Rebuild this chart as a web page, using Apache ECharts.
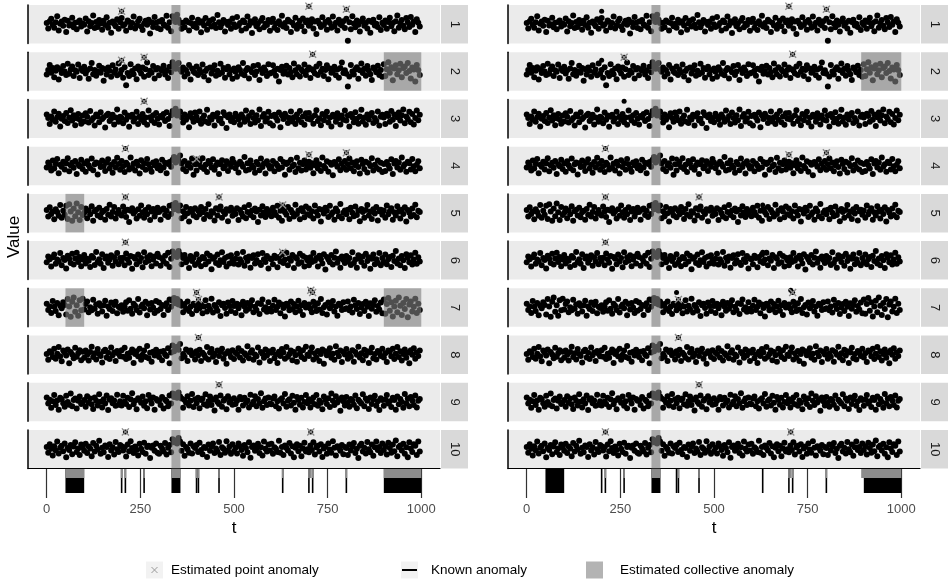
<!DOCTYPE html>
<html><head><meta charset="utf-8">
<script src="https://cdn.jsdelivr.net/npm/echarts@6/dist/echarts.min.js"></script>
<style>html,body{margin:0;padding:0;background:#fff}#c{width:951px;height:584px}</style>
</head><body><div id="c"></div>
<script>
// ---------- DATA ----------
const tStep = 4; // sampling step of the series (t = index * tStep)
const row1 = [0.3,-1.1,0.8,1.4,-0.2,-0.9,0.5,2.1,-1.6,0.1,0.7,-0.4,1.2,-2.0,0.9,-0.3,0.0,1.7,-0.8,0.4,-1.3,0.6,1.0,-0.6,0.2,
-0.1,1.5,-1.9,0.8,-0.5,0.3,2.3,-1.0,0.6,-0.7,1.1,0.2,-1.4,0.9,-0.2,1.8,-0.9,0.4,-2.2,0.7,0.1,-0.5,1.3,-1.2,0.5,
1.6,-0.4,0.0,-1.7,1.0,0.6,-0.8,0.3,2.0,-1.1,-0.3,0.8,1.4,-0.6,-1.5,0.2,0.9,-0.1,1.2,-2.4,0.5,-0.7,1.9,0.4,-1.0,
0.7,-1.3,1.1,0.0,-0.4,2.2,-0.9,0.5,-1.8,2.1,1.4,0.6,2.5,1.2,0.3,-1.2,0.4,-0.8,1.0,0.6,-1.6,0.3,1.7,-0.5,0.1,
-0.9,1.2,0.4,-2.1,0.8,-0.3,1.6,-1.4,0.2,0.9,-0.6,1.3,-0.1,-1.0,2.4,0.5,-0.8,0.1,1.1,-1.9,0.6,-0.2,0.7,-1.2,1.5,
0.0,-0.7,1.9,-0.4,0.3,-1.6,1.0,0.5,-1.1,2.0,-0.3,0.8,-2.3,0.4,1.3,-0.5,0.2,-1.3,0.9,1.6,-0.8,0.1,-0.2,1.1,-1.7,
0.6,1.4,-0.9,0.2,-1.5,0.8,-0.1,2.2,-0.6,0.3,-1.0,1.2,0.7,-2.0,0.4,-0.3,1.7,-1.2,0.0,0.9,-0.5,1.5,-1.8,0.5,1.0,
-0.4,0.2,1.3,-1.1,0.7,-2.5,0.9,0.1,-0.7,1.8,-0.2,0.6,-1.4,1.1,0.3,-0.9,2.0,-0.5,0.4,-1.6,1.2,0.0,-0.3,0.8,-1.0,
1.4,-4.3,0.5,-1.3,2.1,0.2,-0.8,1.0,-0.1,-1.9,0.7,1.5,-0.4,0.3,-1.1,0.9,-2.2,0.6,1.2,-0.3,0.1,-0.7,1.8,-1.5,0.4,
-0.2,1.0,-1.2,0.6,1.7,-0.5,0.3,-1.8,0.8,2.3,-0.9,0.2,1.1,-0.4,-1.3,1.6,0.5,-0.7,1.9,-0.1,0.7,-2.0,1.3,0.4,-0.6];
const row2 = [-0.8,0.4,1.7,-0.3,0.9,-1.5,0.2,1.1,-2.1,0.6,-0.4,1.4,0.0,-0.9,2.0,-0.6,0.5,1.3,-1.2,0.3,-0.1,1.8,-1.7,0.7,0.1,
1.2,-0.5,0.3,-1.9,0.8,2.2,-0.7,0.4,-1.1,0.0,1.5,-0.3,0.9,-2.4,0.6,-0.8,1.0,0.2,-1.4,1.6,-0.2,0.5,-1.0,2.1,-0.6,
0.4,-1.6,1.1,-3.6,-0.4,-1.2,1.9,0.1,-0.7,0.8,-2.0,1.3,0.3,-0.5,1.0,-1.4,0.6,2.3,-0.9,0.2,-0.3,1.4,-1.8,0.5,0.9,
-1.0,0.6,0.2,1.5,-0.8,0.3,-1.7,1.2,-0.2,2.4,1.1,0.7,1.9,2.2,0.5,-0.1,1.0,-1.3,0.4,-0.6,1.7,-2.1,0.8,0.0,-0.4,
1.3,-0.9,0.5,-0.2,1.8,-1.3,0.1,0.7,-2.3,1.0,-0.5,0.4,1.6,-1.1,0.2,-0.7,2.0,-0.3,0.9,-1.6,0.6,1.2,-0.8,0.3,-1.9,
0.8,-0.1,-1.4,1.1,0.4,-0.6,2.2,-1.0,0.3,0.9,-1.8,0.5,-0.2,1.4,-0.9,0.0,1.7,-2.2,0.6,-0.4,1.0,0.2,-1.2,1.9,-0.5,
-0.3,1.6,0.2,-1.1,0.7,-2.6,0.4,1.2,-0.6,0.1,1.5,-0.8,0.9,-0.2,-1.5,2.1,0.3,-0.7,1.1,-1.3,0.5,0.0,1.8,-0.9,0.4,
1.0,-1.7,0.6,0.2,-0.5,1.3,-0.9,2.0,-0.1,0.7,-1.2,0.4,1.6,-2.0,0.8,-0.3,0.1,1.2,-1.0,0.5,-1.6,0.9,2.3,-0.4,0.3,
-0.6,-3.9,-1.3,1.7,0.0,-0.8,0.5,1.1,-1.9,0.3,2.1,-0.4,0.7,-1.1,1.4,0.2,-0.7,-2.2,1.0,0.6,-0.2,1.5,-0.9,0.4,-1.4,
1.9,-1.2,0.6,2.4,-0.3,1.1,-2.3,0.8,1.6,-0.7,0.3,2.0,-1.5,0.9,1.3,-0.4,2.2,0.1,-1.8,1.0,0.5,-2.6,1.7,0.4,-0.9];
const row3 = [1.1,0.2,-1.4,0.6,-0.3,1.9,-0.8,0.4,1.3,-2.0,0.0,0.7,-0.6,1.5,-1.1,0.3,2.2,-0.5,0.9,-1.7,0.1,1.2,-0.2,-1.3,0.8,
-0.7,1.4,0.5,-1.0,2.0,-0.4,0.2,-1.8,1.1,0.6,-0.9,1.7,-0.1,0.4,-2.3,0.9,1.3,-0.6,0.0,1.0,-1.5,0.3,2.4,-0.8,0.5,
0.2,-1.2,1.6,-0.3,0.8,-2.1,0.5,1.0,-0.7,0.1,1.8,-1.4,0.6,-0.2,1.2,-0.9,0.3,-1.6,2.1,0.4,-0.5,0.9,-1.1,1.5,0.0,
-1.5,0.7,0.3,1.2,-0.6,1.7,-0.1,-1.9,0.9,2.0,1.3,2.6,0.8,1.5,1.9,0.4,-1.0,1.1,-0.3,0.6,-2.2,1.4,0.2,-0.8,1.6,
0.5,-0.4,1.9,-1.3,0.1,0.8,-0.7,2.3,-1.1,0.3,-0.2,1.0,-1.8,0.6,1.4,-0.5,0.0,-1.2,1.7,0.9,-2.4,0.4,1.1,-0.6,0.2,
-0.9,1.3,0.6,-0.2,-1.6,1.1,0.4,-0.8,2.1,-0.3,0.7,-1.4,1.6,0.2,-1.0,0.9,-0.4,2.4,-1.9,0.5,1.2,-0.7,0.1,1.8,-1.2,
0.7,-1.8,1.0,0.3,-0.5,1.6,-2.2,0.8,-0.1,1.3,0.5,-1.1,0.2,1.9,-0.7,0.4,-1.4,1.1,-0.3,2.0,-0.9,0.6,-1.6,1.4,0.0,
1.5,-0.2,0.4,-1.3,0.9,2.2,-0.6,0.1,-1.7,1.2,-0.4,0.7,1.8,-1.0,0.3,-2.0,1.0,0.5,-0.8,1.4,0.2,-1.5,0.8,-0.3,2.1,
-0.5,0.8,-2.0,1.2,0.4,-0.9,1.7,0.0,-1.3,0.6,2.3,-0.7,0.3,-1.6,1.1,-0.2,0.9,1.5,-1.1,0.2,-0.6,1.9,-1.8,0.5,1.0,
0.3,-1.4,1.3,0.7,-0.8,2.0,-0.3,1.1,-1.9,0.4,1.6,-0.5,0.9,2.4,-1.2,0.6,-0.1,1.8,-0.9,1.2,-1.5,0.2,2.1,-0.4,1.0];
const row4 = [-0.4,0.9,0.1,-1.2,1.4,-0.7,0.5,1.8,-1.9,0.3,-0.2,1.1,-0.9,0.6,2.0,-1.4,0.2,0.8,-0.5,1.3,-2.1,0.4,-0.1,1.6,-0.8,
0.6,-1.5,1.2,0.2,-0.6,1.9,-1.1,0.4,0.9,-2.2,0.7,-0.3,1.4,0.0,-1.3,0.8,1.7,-0.7,0.3,-1.8,1.0,-0.4,2.1,0.5,-1.0,
1.3,-0.1,-1.6,0.8,0.3,-0.9,2.2,-0.5,0.6,-1.2,1.1,0.1,-2.0,1.5,-0.3,0.7,-1.0,1.8,0.4,-0.7,-1.5,0.9,0.2,1.2,-0.6,
0.2,-1.1,1.6,-0.4,0.8,-1.9,0.5,1.0,-0.2,1.6,2.3,0.9,2.0,1.4,2.7,0.6,-0.8,1.3,-1.4,0.1,0.7,-0.5,1.9,-2.3,0.4,
-1.2,0.5,1.1,-0.3,2.0,-0.8,0.3,-1.6,1.3,0.6,-0.4,1.7,-1.0,0.2,0.9,-2.1,0.4,1.5,-0.6,0.0,1.2,-1.3,0.7,-0.2,1.8,
0.9,-0.6,0.3,-1.7,1.1,0.5,-0.2,2.3,-1.2,0.7,-0.9,1.4,0.1,-0.5,-1.8,1.0,0.4,-1.1,1.9,-0.3,0.6,-2.0,1.2,0.2,-0.7,
-0.2,1.3,-1.4,0.6,0.1,-0.8,1.8,-0.4,1.0,-2.3,0.5,0.9,-1.0,1.6,-0.1,0.3,-1.6,2.1,-0.6,0.8,-1.2,0.4,1.4,-0.9,0.2,
1.1,-0.5,0.7,-1.9,0.2,1.5,-0.7,0.4,-1.3,2.2,0.0,-0.6,1.2,-1.5,0.8,0.3,-2.4,1.0,0.5,-0.2,1.7,-1.1,0.6,-0.4,1.3,
-1.0,0.4,1.9,-0.6,0.9,-1.4,0.2,1.2,-0.3,-2.0,1.6,0.5,-0.8,1.1,-1.7,0.7,0.0,2.0,-1.2,0.3,-0.5,1.4,-0.9,0.8,-1.6,
0.5,-1.3,1.0,0.2,-0.7,1.7,-2.1,0.6,1.3,-0.4,0.9,-1.0,2.2,-0.2,0.4,-1.5,1.1,0.7,-0.9,1.8,-0.1,-1.4,0.3,1.2,-0.6];
const row5 = [0.8,-0.9,1.5,-0.2,0.4,-1.6,1.0,0.3,-0.7,2.1,-1.2,0.6,-0.4,1.9,-1.5,2.3,0.4,-2.0,1.2,-0.8,2.5,0.2,-1.8,1.6,-0.5,
0.1,1.2,-1.3,0.7,-0.3,1.8,-2.0,0.5,0.9,-0.6,1.4,-1.1,0.2,0.6,-1.7,1.1,-0.4,2.2,-0.9,0.3,1.6,-1.4,0.0,0.8,-0.2,
-0.6,1.7,0.4,-1.0,0.9,-2.3,0.6,1.3,-0.1,0.5,-1.4,1.0,-0.7,2.0,0.2,-1.2,0.8,-0.3,1.5,-1.8,0.4,1.1,-0.9,0.1,1.4,
0.3,-1.7,0.9,1.2,-0.5,0.6,-1.0,1.9,-0.2,2.2,1.0,2.6,1.5,0.7,2.0,-1.3,0.5,-0.8,1.6,0.0,-2.2,1.1,0.3,-0.6,1.3,
-1.1,0.7,-0.3,1.6,0.2,-1.5,1.1,-0.4,2.3,-0.9,0.5,0.1,-1.9,1.3,-0.6,0.9,1.7,-1.2,0.4,-0.2,1.0,-2.1,0.6,1.4,-0.7,
0.6,-0.2,1.3,-1.8,0.8,0.0,-0.9,1.5,-1.3,0.3,2.1,-0.5,0.7,-1.1,1.2,0.4,-2.3,0.9,-0.6,1.8,0.2,-1.0,1.1,-0.3,0.5,
-0.8,1.4,0.3,-0.5,1.9,-1.2,0.6,-2.0,1.0,0.2,-0.4,1.6,-1.5,0.8,0.1,-0.9,2.2,-0.2,0.7,-1.6,1.3,0.4,-1.1,1.7,-0.3,
1.2,-0.7,0.5,-1.4,2.0,0.3,-0.6,1.1,-2.2,0.8,-0.1,1.4,0.6,-1.0,1.9,-0.4,0.2,-1.7,1.2,0.5,-0.8,2.4,-1.3,0.1,0.7,
-0.3,0.9,-1.6,1.4,0.1,-0.8,1.7,-0.5,0.6,-2.1,1.1,0.3,-1.2,0.8,2.1,-0.6,0.4,-1.5,1.0,-0.1,1.6,-1.9,0.5,0.9,-0.4,
0.7,-1.2,2.0,-0.3,0.5,1.3,-1.7,0.2,-0.6,1.8,0.4,-1.4,0.9,-0.2,1.5,-2.2,0.8,0.1,-0.9,1.2,-0.5,2.2,-1.1,0.6,0.3];
const row6 = [-0.5,1.0,0.3,-1.6,0.8,1.5,-0.9,0.2,-0.3,1.9,-1.3,0.6,0.1,-2.1,1.2,0.4,-0.7,1.7,-1.1,0.5,2.0,-0.4,0.9,-1.5,0.2,
1.4,-0.8,0.4,-0.1,-1.7,1.1,0.7,-1.2,2.2,-0.4,0.3,-0.9,1.6,-2.0,0.5,1.0,-0.6,0.2,1.3,-1.4,0.8,-0.3,1.9,-1.0,0.6,
-0.2,0.7,-1.3,1.8,0.3,-0.6,1.1,-2.2,0.9,0.4,-1.0,1.5,-0.3,0.6,-1.8,2.1,-0.5,0.8,-0.1,1.3,-1.5,0.2,1.0,-0.8,1.7,
0.9,-1.4,0.5,-0.3,1.2,-0.9,2.0,-1.7,0.4,2.3,1.2,1.8,0.9,2.4,1.5,-1.0,0.6,1.4,-0.5,0.3,-2.0,1.1,-0.2,0.7,-1.2,
1.6,-0.6,0.2,-1.5,0.9,0.5,-1.0,1.8,-0.3,1.2,-2.3,0.4,0.8,-0.7,1.5,-1.2,0.0,2.1,-0.4,0.6,-1.6,1.0,-0.8,1.3,0.1,
-0.9,0.4,1.7,-1.1,0.3,-0.5,2.2,-1.4,0.7,-0.2,1.0,-1.9,0.6,1.3,-0.8,0.1,1.6,-0.6,-1.2,1.9,0.3,-0.4,1.1,-2.1,0.5,
0.3,-1.0,1.2,0.6,-1.8,0.9,-0.3,1.5,-0.7,0.2,2.0,-1.3,0.5,-0.1,1.4,-2.0,0.8,0.4,-0.9,1.7,-0.5,1.1,-1.6,0.7,0.0,
-1.3,0.8,-0.4,1.9,-0.1,0.6,-1.6,1.2,0.3,-0.8,1.6,-2.4,0.9,0.2,-0.5,1.4,-1.1,0.7,2.3,-0.6,0.4,-1.9,1.0,0.1,-0.7,
1.1,-0.3,0.6,-1.2,2.1,-0.7,0.2,-1.9,1.3,0.5,-0.4,1.0,-1.4,1.7,-0.2,0.8,-2.2,0.4,1.5,-1.0,0.3,-0.6,1.9,-1.3,0.6,
-0.4,1.5,-1.0,0.3,0.9,-1.7,1.2,-0.2,2.4,-0.8,0.5,-1.3,1.1,0.0,-2.0,1.6,0.7,-0.5,1.3,-1.1,0.2,2.0,-0.9,0.8,-0.3];
const row7 = [1.0,-0.6,0.3,-1.4,1.7,0.2,-0.9,1.2,-2.0,0.5,-0.2,1.4,0.7,-1.8,2.2,0.3,-2.4,1.5,2.6,-1.1,0.6,-2.1,1.9,-0.7,2.3,
-0.5,0.9,1.6,-1.2,0.1,-0.7,2.0,-0.3,0.8,-1.6,1.1,0.4,-1.0,0.6,1.8,-2.1,0.3,-0.4,1.3,-0.9,0.7,1.5,-1.5,0.2,-0.1,
0.6,-1.1,0.2,1.4,-0.8,1.9,-0.3,-1.6,1.0,0.5,-0.6,2.2,-1.3,0.3,0.8,-0.2,1.5,-2.0,0.9,-0.5,1.2,0.0,-1.4,1.7,-0.8,
1.3,-0.4,0.7,-1.9,0.4,1.1,-0.6,2.1,0.2,1.8,2.5,1.1,2.2,0.8,1.6,0.5,-1.2,0.9,-0.3,1.6,-0.9,0.2,-1.7,1.0,0.6,
-0.7,1.2,-0.2,0.8,-1.5,0.3,1.9,-1.0,0.5,-0.4,2.3,-1.3,0.7,0.1,-0.8,1.4,-2.2,0.6,1.0,-0.1,-1.6,1.3,0.4,-0.9,1.7,
0.4,-1.4,1.0,-0.2,0.7,-2.0,1.5,0.3,-0.8,1.2,-0.3,0.6,1.9,-1.2,0.2,-0.6,1.1,-1.7,0.9,2.1,-0.5,0.1,-1.1,1.4,-0.3,
-1.0,0.5,2.0,-0.6,0.2,1.3,-1.5,0.8,-0.1,-2.3,1.0,0.4,-0.7,1.6,-0.4,0.9,-1.2,0.3,1.8,-0.8,0.6,-1.9,1.2,0.0,0.7,
0.8,-0.3,-1.2,1.5,0.4,-0.9,1.1,-0.5,2.2,-1.4,0.1,0.7,-1.8,1.3,-0.2,0.5,1.7,-1.0,0.3,-2.1,1.0,0.6,-0.6,1.4,-0.4,
-0.2,1.6,-0.7,0.3,-1.3,2.0,0.6,-0.4,1.2,-1.7,0.0,0.9,-0.9,1.5,0.2,-2.2,1.1,-0.3,0.7,1.9,-1.1,0.4,-0.5,1.3,-1.5,
2.1,-1.6,0.9,2.5,-0.8,1.4,-2.3,0.3,1.8,-1.2,2.6,0.5,-1.9,1.2,-0.4,2.2,-2.5,0.8,1.6,-1.0,0.2,2.3,-1.4,1.0,-0.6];
const row8 = [0.2,-1.3,0.9,0.5,-0.6,1.6,-1.0,0.3,2.0,-0.4,-1.7,1.1,0.6,-0.2,1.4,-2.2,0.7,0.1,-0.9,1.8,-0.5,0.4,1.2,-1.4,0.8,
-0.8,1.1,0.0,-1.5,0.7,2.1,-0.6,0.4,-1.2,1.5,0.2,-0.3,-2.0,0.9,1.3,-0.7,0.5,-1.1,1.9,-0.1,0.6,-1.6,1.0,0.3,-0.4,
1.2,-0.5,1.8,-1.1,0.3,-0.8,0.6,1.4,-2.1,0.2,0.9,-0.4,1.6,-1.3,0.0,1.1,-0.6,2.3,-0.9,0.5,-1.8,0.8,-0.2,1.3,0.4,
-0.6,0.8,-1.4,1.0,0.1,-0.3,1.7,-2.2,0.6,2.4,0.9,1.7,2.1,1.3,2.8,-0.9,0.2,-0.5,1.4,-1.6,0.7,1.1,-0.1,0.4,-1.2,
0.9,-0.2,1.3,-1.6,0.5,0.0,-0.8,2.0,-1.2,0.6,1.5,-0.5,0.3,-1.9,1.1,-0.3,0.8,1.6,-1.0,0.2,-2.3,0.9,0.4,-0.6,1.2,
-1.1,0.6,0.2,1.7,-0.7,1.0,-1.5,0.4,-0.1,2.2,-0.9,0.5,1.2,-1.3,0.1,-0.4,1.9,-2.0,0.7,0.3,-0.8,1.4,-0.2,0.9,-1.6,
0.5,1.3,-0.9,0.1,-2.1,0.8,-0.3,1.5,0.6,-1.0,2.0,-0.5,0.2,1.1,-1.4,0.7,-0.1,-1.8,1.6,0.3,-0.6,1.2,-1.1,2.1,0.0,
-0.3,0.7,1.9,-1.2,0.4,-0.7,1.0,-1.6,0.2,1.4,-2.3,0.9,-0.1,0.6,1.7,-0.8,0.3,-1.3,2.2,0.5,-0.4,1.1,-1.9,0.7,0.1,
1.5,-1.0,0.3,-0.5,1.2,-1.8,0.7,0.0,2.1,-0.7,0.4,-1.4,1.3,-0.2,0.9,-2.1,0.6,1.8,-0.9,0.2,-1.2,1.0,0.5,-0.3,1.6,
-0.7,0.4,-1.9,1.1,0.8,-0.4,1.6,-1.1,0.3,2.0,-0.6,0.9,-1.5,0.2,1.4,-0.8,0.5,-2.2,1.2,0.0,1.7,-1.0,0.6,-0.3,1.1];
const row9 = [1.2,-0.4,0.6,-1.5,0.2,1.8,-0.8,0.4,-2.0,1.1,0.7,-0.3,-1.2,1.6,0.0,-0.7,2.2,-1.1,0.5,0.9,-1.7,0.3,1.4,-0.5,-0.1,
0.5,-1.2,1.5,-0.2,0.9,-0.6,-1.8,1.2,0.3,-0.9,2.0,0.1,-1.4,0.7,-0.4,1.7,-2.1,0.6,1.0,-0.3,0.4,-1.0,1.9,-0.7,0.2,
-0.9,1.6,0.1,-0.5,1.1,-1.3,0.7,2.3,-0.6,0.3,-1.9,1.0,0.5,-0.2,1.4,-1.0,0.2,-1.6,1.8,0.6,-0.4,1.2,-2.0,0.8,0.3,
0.4,-0.8,1.3,-1.7,0.6,0.2,-1.1,1.7,-0.4,2.2,1.3,2.0,1.1,2.5,1.4,0.9,-1.5,0.5,-0.2,1.5,-0.9,0.3,2.1,-1.3,0.7,
-0.3,1.1,-1.6,0.5,0.9,-0.6,2.0,-1.0,0.2,1.4,-0.8,0.6,-2.2,1.2,0.0,-0.5,1.7,-1.2,0.3,0.8,-1.9,1.5,-0.1,0.6,-0.7,
1.0,-0.5,0.3,-2.0,1.3,0.7,-0.9,1.1,-0.2,0.4,-1.4,1.9,-0.6,0.1,1.5,-1.1,0.8,-0.3,2.3,-1.5,0.2,0.9,-0.8,1.2,-0.4,
-0.6,0.9,1.4,-1.1,0.2,-1.7,0.6,1.0,-0.4,2.1,-1.2,0.3,0.7,-0.9,1.6,-0.2,-2.0,1.3,0.5,-0.7,1.1,-1.4,0.0,1.8,-0.3,
0.7,-1.4,0.1,1.2,-0.6,1.8,-1.0,0.4,-0.2,-1.9,1.4,0.6,-0.5,1.0,-1.3,2.2,0.3,-0.8,1.5,-0.1,0.5,-2.3,1.2,0.2,-0.9,
1.3,-0.2,-1.2,0.8,0.4,-0.7,1.7,-1.6,0.6,0.1,-0.4,2.0,-1.1,0.9,0.3,-1.8,1.2,-0.5,0.7,1.6,-1.0,0.2,-2.1,1.0,0.5,
-1.0,0.6,1.8,-0.4,0.2,-1.3,1.1,0.5,-2.0,1.4,-0.6,0.8,0.0,-1.5,2.1,-0.3,0.9,-1.1,1.3,0.4,-0.8,1.7,-1.4,0.3,0.8];
const row10 = [0.6,-0.9,1.3,0.1,-1.6,0.8,-0.3,2.0,-1.1,0.4,0.9,-0.5,1.5,-2.1,0.3,-0.2,1.1,-1.3,0.7,1.8,-0.7,0.2,-1.5,1.2,0.5,
-0.4,1.4,-1.0,0.7,0.2,-1.8,1.6,-0.6,0.9,-0.1,2.2,-1.2,0.4,-0.8,1.0,0.6,-2.0,1.3,-0.3,0.5,-1.4,1.9,0.0,-0.7,1.1,
0.8,-0.3,0.5,-1.9,1.2,-0.5,2.1,0.3,-1.0,0.7,-0.2,-1.6,1.4,0.1,-0.7,1.7,-1.2,0.6,0.9,-2.3,0.4,1.0,-0.4,1.5,-0.9,
-1.2,0.9,0.2,-0.6,1.6,-1.4,0.4,1.1,-0.8,2.6,1.8,2.3,1.5,2.9,2.0,-0.4,1.3,-1.7,0.6,0.0,-0.9,1.5,-1.1,0.8,0.3,
1.1,-0.7,1.7,-0.2,-1.3,0.6,0.3,-2.0,1.2,-0.4,0.8,1.5,-1.0,0.2,-0.6,1.9,-1.5,0.5,0.1,-0.9,2.1,-0.3,0.7,-1.2,1.3,
-0.5,0.4,-1.1,1.5,0.8,-0.2,-1.7,1.1,0.3,-0.8,1.8,-2.2,0.6,1.0,-0.4,0.2,1.4,-1.0,0.5,-1.6,2.0,0.1,-0.6,1.2,-0.3,
1.4,-1.2,0.5,0.1,-0.7,2.2,-0.9,0.6,-1.5,1.0,0.3,-0.3,1.6,-1.1,0.8,-2.1,0.4,1.3,-0.5,0.9,-1.8,0.2,1.7,-0.6,0.0,
-0.8,1.0,-0.2,1.8,-1.4,0.5,0.9,-0.6,1.3,-2.0,0.2,0.7,-1.2,1.5,-0.1,-0.9,2.1,0.4,-1.6,0.8,0.3,-0.4,1.1,-1.3,0.6,
0.3,-1.5,1.2,-0.3,0.7,1.6,-1.0,0.1,-2.3,0.9,1.4,-0.6,0.4,-1.1,1.9,0.0,-0.8,1.2,-1.7,0.5,2.0,-0.2,0.6,-1.0,1.5,
-0.2,0.8,-1.4,1.7,0.3,-0.9,1.2,-0.5,2.3,-1.8,0.6,1.0,-0.3,1.4,-1.2,0.5,-2.1,1.8,0.2,-0.7,1.3,0.9,-1.5,2.0,-0.6];
const rows = [row1,row2,row3,row4,row5,row6,row7,row8,row9,row10];
const rowLabels = ['1','2','3','4','5','6','7','8','9','10'];

// outlying observations per series: [t, value]
const outliers = [
  [[200,3.4],[700,4.7],[800,3.9]],
  [[200,2.9],[260,3.7],[710,4.5]],
  [[260,4.5]],
  [[210,4.5],[400,1.8],[700,2.9],[800,3.4]],
  [[210,4.2],[460,4.2],[630,2.1]],
  [[210,4.7],[630,2.1]],
  [[400,3.9],[405,2.1],[705,4.5],[710,3.9]],
  [[405,4.5]],
  [[460,4.5]],
  [[210,4.5],[705,4.5]]
];
// estimated point anomalies (t) per series
const pointLeft = [[200,700,800],[200,260,710],[260],[210,400,700,800],[210,460,630],[210,630],[400,405,705,710],[405],[460],[210,705]];
const pointRight = [[700,800],[260,710],[],[210,700,800],[210,460],[210],[405,710],[405],[460],[210,705]];
// estimated collective anomalies [start, end] per series
const collLeft = [[[333,357]],[[333,357],[900,1000]],[[333,357]],[[333,357]],[[50,100],[333,357]],[[333,357]],[[50,100],[333,357],[900,1000]],[[333,357]],[[333,357]],[[333,357]]];
const collRight = [[[333,357]],[[333,357],[893,1000]],[[333,357]],[[333,357]],[[333,357]],[[333,357]],[[333,357]],[[333,357]],[[333,357]],[[333,357]]];
// known anomalies
const knownCollective = [[50,100],[333,357],[900,1000]];
const knownPoints = [200,210,260,400,405,460,630,700,710,800];
const xTicks = [0,250,500,750,1000];

// ---------- CHART ----------
const FONT = '"Liberation Sans", Arial, Helvetica, sans-serif';
const PW = 412, TOP0 = 5, PITCH = 47.22, RH = 38.5;
const XMIN = -50, XMAX = 1050;
const crossPath = 'path://M0,1.2L1.2,0L5,3.8L8.8,0L10,1.2L6.2,5L10,8.8L8.8,10L5,6.2L1.2,10L0,8.8L3.8,5Z';
const panels = [
  {left: 28, coll: collLeft, pts: pointLeft},
  {left: 508, coll: collRight, pts: pointRight}
];
const grids = [], xAxes = [], yAxes = [], series = [], graphics = [];

function bandItem(fill) {
  return function (params, api) {
    const a = api.coord([api.value(0), 0]);
    const b = api.coord([api.value(1), 0]);
    const cs = params.coordSys;
    return {type: 'rect', shape: {x: a[0], y: cs.y, width: b[0] - a[0], height: cs.height}, style: {fill: fill}};
  };
}

panels.forEach(function (p) {
  rows.forEach(function (vals, ri) {
    const gi = grids.length;
    const top = TOP0 + PITCH * ri;
    const last = ri === rows.length - 1;
    grids.push({left: p.left, top: top, width: PW, height: RH, show: true, backgroundColor: '#EBEBEB', borderWidth: 0});
    xAxes.push({gridIndex: gi, type: 'value', min: XMIN, max: XMAX, show: last,
      axisLine: {show: last, onZero: false, lineStyle: {color: '#000', width: 1.2}},
      axisTick: {show: false}, axisLabel: {show: false}, splitLine: {show: false}});
    yAxes.push({gridIndex: gi, type: 'value', min: -5, max: 5,
      axisLine: {show: true, onZero: false, lineStyle: {color: '#000', width: 1.5}},
      axisTick: {show: false}, axisLabel: {show: false}, splitLine: {show: false}});
    series.push({type: 'scatter', xAxisIndex: gi, yAxisIndex: gi, silent: true, z: 2,
      data: vals.map(function (v, i) { return [i * tStep, v]; }),
      symbolSize: 6, itemStyle: {color: '#000', opacity: 1}});
    series.push({type: 'scatter', xAxisIndex: gi, yAxisIndex: gi, silent: true, z: 2,
      data: outliers[ri], symbolSize: 5, itemStyle: {color: '#000', opacity: 1}});
    series.push({type: 'custom', xAxisIndex: gi, yAxisIndex: gi, silent: true, z: 3,
      data: p.coll[ri], encode: {x: [0, 1]}, renderItem: bandItem('rgba(128,128,128,0.62)')});
    const det = p.pts[ri].map(function (t) { return outliers[ri].find(function (o) { return o[0] === t; }); });
    series.push({type: 'scatter', xAxisIndex: gi, yAxisIndex: gi, silent: true, z: 4,
      data: det, symbol: crossPath, symbolSize: 8, itemStyle: {color: '#8c8c8c', opacity: 1}});
    graphics.push({type: 'rect', shape: {x: p.left + PW + 1, y: top, width: 27, height: RH}, style: {fill: '#D9D9D9'}});
    graphics.push({type: 'text', x: p.left + PW + 14.5, y: top + RH / 2, rotation: -Math.PI / 2,
      style: {text: rowLabels[ri], fill: '#1A1A1A', font: '13px ' + FONT, align: 'center', verticalAlign: 'middle'}});
  });
  const gi = grids.length;
  grids.push({left: p.left, top: 469, width: PW, height: 29});
  xAxes.push({gridIndex: gi, type: 'value', min: XMIN, max: XMAX, position: 'bottom',
    axisLine: {show: false, onZero: false},
    axisTick: {show: true, inside: true, length: 29, customValues: xTicks, lineStyle: {color: '#333', width: 1.2}},
    axisLabel: {show: true, customValues: xTicks, color: '#4D4D4D', fontSize: 13, margin: 5, fontFamily: FONT,
      formatter: function (v) { return String(v); }},
    splitLine: {show: false},
    name: 't', nameLocation: 'middle', nameGap: 22, nameTextStyle: {fontSize: 17, color: '#000', fontFamily: FONT}});
  yAxes.push({gridIndex: gi, type: 'value', min: 0, max: 1, show: false});
  const estColl = [];
  p.coll.forEach(function (list) { list.forEach(function (iv) {
    if (!estColl.some(function (e) { return e[0] === iv[0] && e[1] === iv[1]; })) estColl.push(iv);
  }); });
  const estPts = [];
  p.pts.forEach(function (list) { list.forEach(function (t) { if (estPts.indexOf(t) < 0) estPts.push(t); }); });
  function trackItem(fill, h, isPoint) {
    return function (params, api) {
      const cs = params.coordSys;
      let x0, w;
      if (isPoint) { x0 = api.coord([api.value(0), 0])[0] - 0.8; w = 1.6; }
      else { const a = api.coord([api.value(0), 0]); const b = api.coord([api.value(1), 0]); x0 = a[0]; w = b[0] - a[0]; }
      return {type: 'rect', shape: {x: x0, y: cs.y, width: w, height: h}, style: {fill: fill}};
    };
  }
  series.push({type: 'custom', xAxisIndex: gi, yAxisIndex: gi, silent: true, z: 2,
    data: knownCollective, encode: {x: [0, 1]}, renderItem: trackItem('#000', 24, false)});
  series.push({type: 'custom', xAxisIndex: gi, yAxisIndex: gi, silent: true, z: 2,
    data: knownPoints.map(function (t) { return [t, 0]; }), encode: {x: 0}, renderItem: trackItem('#000', 24, true)});
  series.push({type: 'custom', xAxisIndex: gi, yAxisIndex: gi, silent: true, z: 3,
    data: estColl, encode: {x: [0, 1]}, renderItem: trackItem('#8C8C8C', 9, false)});
  series.push({type: 'custom', xAxisIndex: gi, yAxisIndex: gi, silent: true, z: 3,
    data: estPts.map(function (t) { return [t, 0]; }), encode: {x: 0}, renderItem: trackItem('#8C8C8C', 9, true)});
});

graphics.push({type: 'text', x: 14, y: 237, rotation: Math.PI / 2,
  style: {text: 'Value', fill: '#000', font: '17px ' + FONT, align: 'center', verticalAlign: 'middle'}});
const LY = 570;
graphics.push({type: 'rect', shape: {x: 146, y: LY - 8.5, width: 17, height: 17}, style: {fill: '#F2F2F2'}});
graphics.push({type: 'line', shape: {x1: 151.5, y1: LY - 3, x2: 157.5, y2: LY + 3}, style: {stroke: '#999', lineWidth: 1}});
graphics.push({type: 'line', shape: {x1: 157.5, y1: LY - 3, x2: 151.5, y2: LY + 3}, style: {stroke: '#999', lineWidth: 1}});
graphics.push({type: 'text', x: 171, y: LY, style: {text: 'Estimated point anomaly', fill: '#000', font: '13.5px ' + FONT, verticalAlign: 'middle'}});
graphics.push({type: 'rect', shape: {x: 401, y: LY - 8.5, width: 17, height: 17}, style: {fill: '#F2F2F2'}});
graphics.push({type: 'line', shape: {x1: 402, y1: LY, x2: 417, y2: LY}, style: {stroke: '#000', lineWidth: 2}});
graphics.push({type: 'text', x: 431, y: LY, style: {text: 'Known anomaly', fill: '#000', font: '13.5px ' + FONT, verticalAlign: 'middle'}});
graphics.push({type: 'rect', shape: {x: 586, y: LY - 8.5, width: 17, height: 17}, style: {fill: '#B3B3B3'}});
graphics.push({type: 'text', x: 620, y: LY, style: {text: 'Estimated collective anomaly', fill: '#000', font: '13.5px ' + FONT, verticalAlign: 'middle'}});

const chart = echarts.init(document.getElementById('c'), null, {renderer: 'canvas'});
chart.setOption({
  animation: false,
  backgroundColor: '#fff',
  textStyle: {fontFamily: FONT},
  grid: grids, xAxis: xAxes, yAxis: yAxes, series: series, graphic: graphics
});
</script></body></html>
